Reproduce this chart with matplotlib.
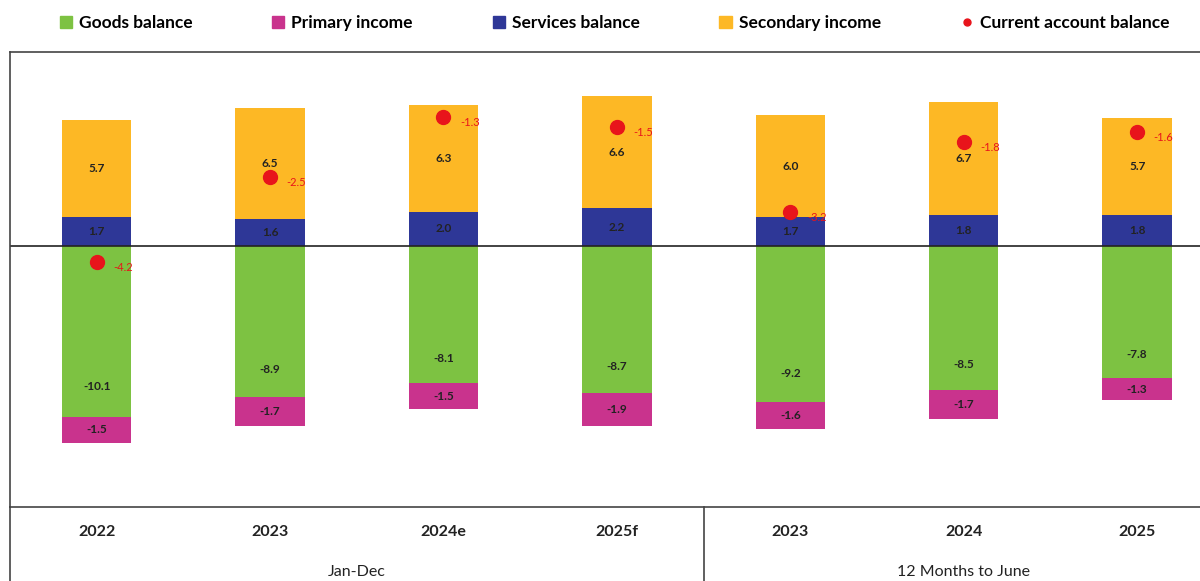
import numpy as np
import matplotlib.pyplot as plt
from matplotlib.lines import Line2D
from matplotlib.patches import Patch

categories = ["2022", "2023", "2024e", "2025f", "2023", "2024", "2025"]
groups = ["Jan-Dec", "12 Months to June"]
goods = [-10.1, -8.9, -8.1, -8.7, -9.2, -8.5, -7.8]
primary = [-1.5, -1.7, -1.5, -1.9, -1.6, -1.7, -1.3]
services = [1.7, 1.6, 2.0, 2.2, 1.7, 1.8, 1.8]
secondary = [5.7, 6.5, 6.3, 6.6, 6.0, 6.7, 5.7]
current = [-4.2, -2.5, -1.3, -1.5, -3.2, -1.8, -1.6]

c_goods = "#7dc242"
c_primary = "#c9338d"
c_services = "#2e3797"
c_secondary = "#fdb825"
c_ca = "#e8141b"

plt.rcParams['font.family'] = ['Lato', 'DejaVu Sans']

fig = plt.figure(figsize=(12, 5.81), dpi=100)
ax = fig.add_axes([0.0083, 0.127, 1.0, 0.783])

x = np.arange(len(categories))
w = 0.4
goods = np.array(goods)
primary = np.array(primary)
services = np.array(services)
secondary = np.array(secondary)

ax.bar(x, goods, w, color=c_goods)
ax.bar(x, primary, w, bottom=goods, color=c_primary)
ax.bar(x, services, w, color=c_services)
ax.bar(x, secondary, w, bottom=services, color=c_secondary)

lab = dict(ha="center", va="center", fontsize=8.5, fontweight="bold", color="#222222")
for i in range(len(x)):
    ax.text(x[i], goods[i] * 0.82, f"{goods[i]:.1f}", **lab)
    ax.text(x[i], goods[i] + primary[i] / 2, f"{primary[i]:.1f}", **lab)
    ax.text(x[i], services[i] / 2, f"{services[i]:.1f}", **lab)
    ax.text(x[i], services[i] + secondary[i] / 2, f"{secondary[i]:.1f}", **lab)

ax.axhline(0, color="#222222", lw=1.2)
ax.set_xlim(-0.5, 6.42)
ax.set_ylim(-15.4, 11.4)
ax.set_xticks([])
ax.set_yticks([])
ax.spines['right'].set_visible(False)
for s in ['left', 'top', 'bottom']:
    ax.spines[s].set_color("#444444")
    ax.spines[s].set_linewidth(1.2)

# current account on hidden secondary axis
ax2 = ax.twinx()
ax2.set_ylim(-9.1, 0)
ax2.plot(x, current, "o", color=c_ca, ms=10, ls="none")
for i in range(len(x)):
    ax2.annotate(f"{current[i]:.1f}", (x[i], current[i]), xytext=(12, -4),
                 textcoords="offset points", fontsize=8, color=c_ca, va="center")
ax2.axis("off")

# category axis
trans = ax.get_xaxis_transform()
for i, c in enumerate(categories):
    ax.text(x[i], -0.055, c, transform=trans, ha="center", va="center",
            fontsize=11.5, fontweight="bold", color="#222222")
ax.text(1.5, -0.143, groups[0], transform=trans, ha="center", va="center", fontsize=11.5, color="#222222")
ax.text(5.0, -0.143, groups[1], transform=trans, ha="center", va="center", fontsize=11.5, color="#222222")
ax.add_line(Line2D([3.5, 3.5], [0, -0.17], transform=trans, color="#444444", lw=1.2, clip_on=False))
ax.add_line(Line2D([-0.5, -0.5], [0, -0.17], transform=trans, color="#444444", lw=1.2, clip_on=False))

handles = [Patch(color=c_goods), Patch(color=c_primary), Patch(color=c_services), Patch(color=c_secondary),
           Line2D([], [], marker="o", color=c_ca, ls="none", ms=5)]
labels = ["Goods balance", "Primary income", "Services balance", "Secondary income", "Current account balance"]
fig.legend(handles, labels, loc="center", bbox_to_anchor=(0.512, 0.96), ncol=5, frameon=False,
           prop={'size': 12.5, 'weight': 'bold'}, handlelength=0.7, handleheight=0.7,
           handletextpad=0.4, columnspacing=4.6)

plt.savefig("out.png", dpi=100)
